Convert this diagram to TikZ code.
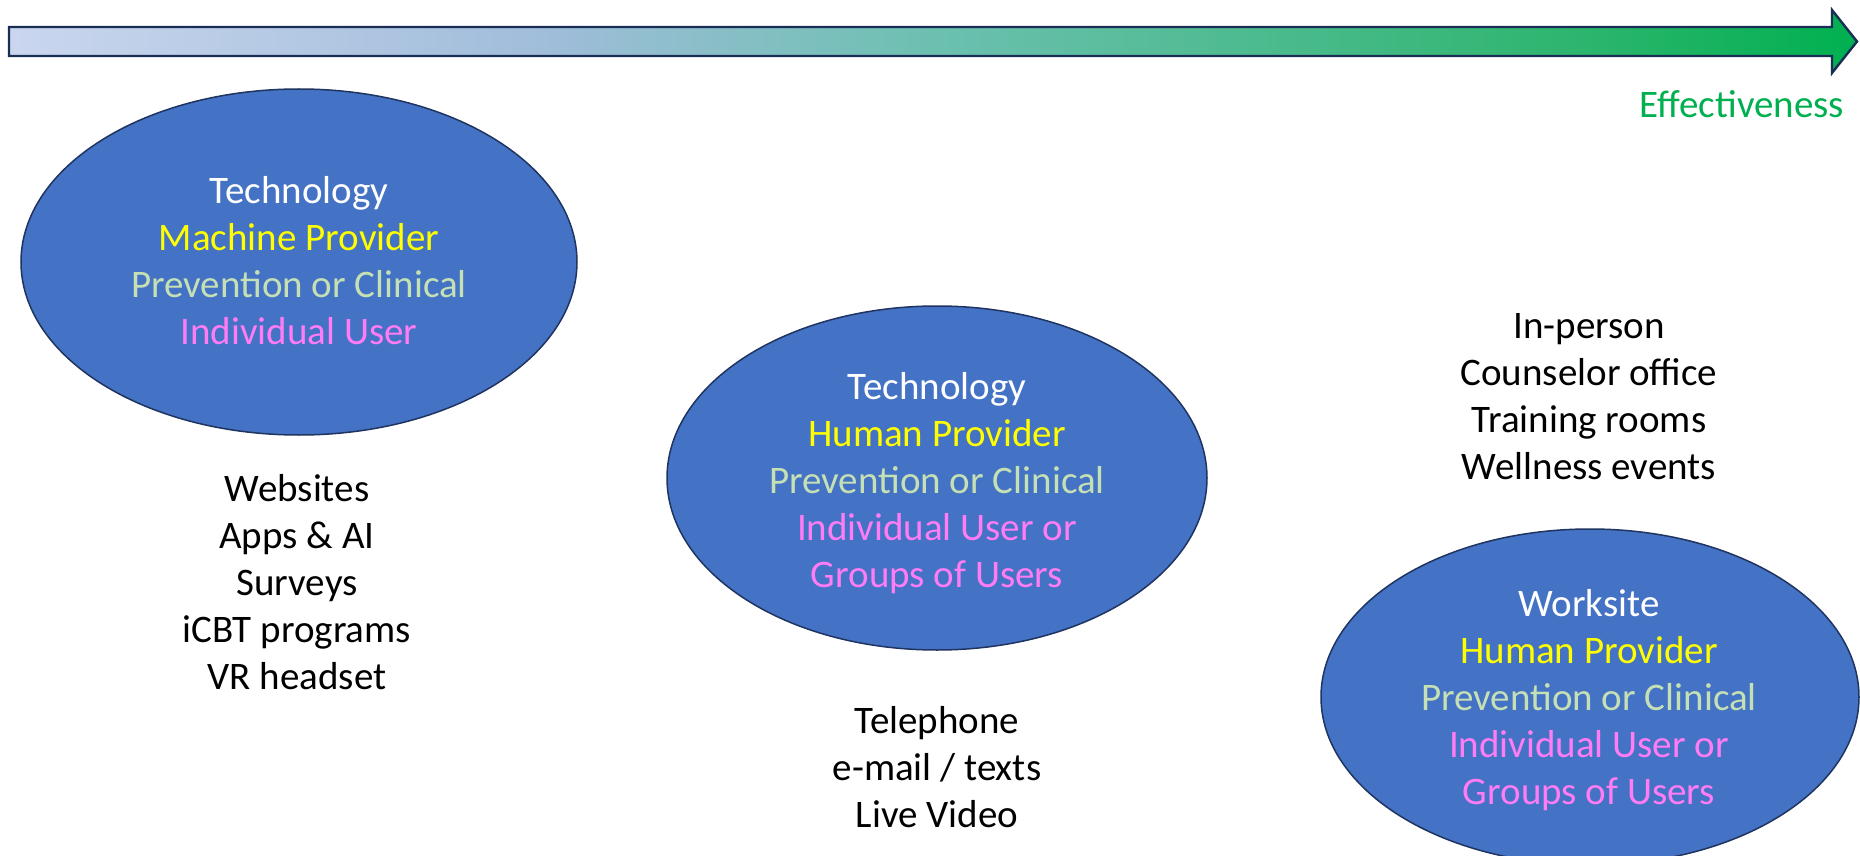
\documentclass[tikz,border=0pt]{standalone}
\usepackage{fontspec}
\setmainfont{Carlito}
\usetikzlibrary{shapes.geometric}
\definecolor{g0}{HTML}{CAD6EE}
\definecolor{g1}{HTML}{A0BDDA}
\definecolor{g2}{HTML}{6CC0B0}
\definecolor{g3}{HTML}{48BA8A}
\definecolor{g4}{HTML}{2DB56E}
\definecolor{g5}{HTML}{00B050}
\definecolor{navy}{HTML}{1A2E55}
\definecolor{blobfill}{HTML}{4472C4}
\definecolor{blobline}{HTML}{1F3460}
\definecolor{ytxt}{HTML}{FFFF00}
\definecolor{gtxt}{HTML}{C5E0B4}
\definecolor{ptxt}{HTML}{FF7CF5}
\definecolor{efftxt}{HTML}{00B050}
\pgfdeclarehorizontalshading{effshade}{100bp}{color(0bp)=(g0); color(25bp)=(g0); color(39.5bp)=(g1); color(50bp)=(g2); color(60bp)=(g3); color(67.5bp)=(g4); color(75bp)=(g5); color(100bp)=(g5)}
\tikzset{
  blob/.style={ellipse, draw=blobline, line width=0.75pt, fill=blobfill, inner sep=0pt},
  txt/.style={inner sep=0pt, align=center, font=\fontsize{19.5}{23.5}\selectfont},
}
\begin{document}
\begin{tikzpicture}[x=0.5pt,y=-0.5pt]
\useasboundingbox (0,0) rectangle (1860,856);
% arrow
\path[shading=effshade, draw=navy, line width=1.2pt, line join=miter]
  (9,27) -- (1832,27) -- (1832,10) -- (1857,41.5) -- (1832,73) -- (1832,56) -- (9,56) -- cycle;
\node[txt, text=efftxt] (eff) at (1742,104) {Effectiveness};
% ellipses
\node[blob, minimum width=278pt, minimum height=173pt] (e1) at (299,262) {};
\node[blob, minimum width=270pt, minimum height=172pt] (e2) at (937,478) {};
\node[blob, minimum width=269pt, minimum height=168pt] (e3) at (1590,697) {};
% ellipse texts
\node[txt] (t1) at (299,261) {\textcolor{white}{Technology}\\\textcolor{ytxt}{Machine Provider}\\\textcolor{gtxt}{Prevention or Clinical}\\\textcolor{ptxt}{Individual User}};
\node[txt] (t2) at (937,483) {\textcolor{white}{Technology}\\\textcolor{ytxt}{Human Provider}\\\textcolor{gtxt}{Prevention or Clinical}\\\textcolor{ptxt}{Individual User or}\\\textcolor{ptxt}{Groups of Users}};
\node[txt] (t3) at (1589,700) {\textcolor{white}{Worksite}\\\textcolor{ytxt}{Human Provider}\\\textcolor{gtxt}{Prevention or Clinical}\\\textcolor{ptxt}{Individual User or}\\\textcolor{ptxt}{Groups of Users}};
% black lists
\node[txt] (l1) at (297,582) {Websites\\Apps \& AI\\Surveys\\iCBT programs\\VR headset};
\node[txt] (l2) at (937,767) {Telephone\\e-mail / texts\\Live Video};
\node[txt] (l3) at (1589,397) {In-person\\Counselor office\\Training rooms\\Wellness events};
\end{tikzpicture}
\end{document}
